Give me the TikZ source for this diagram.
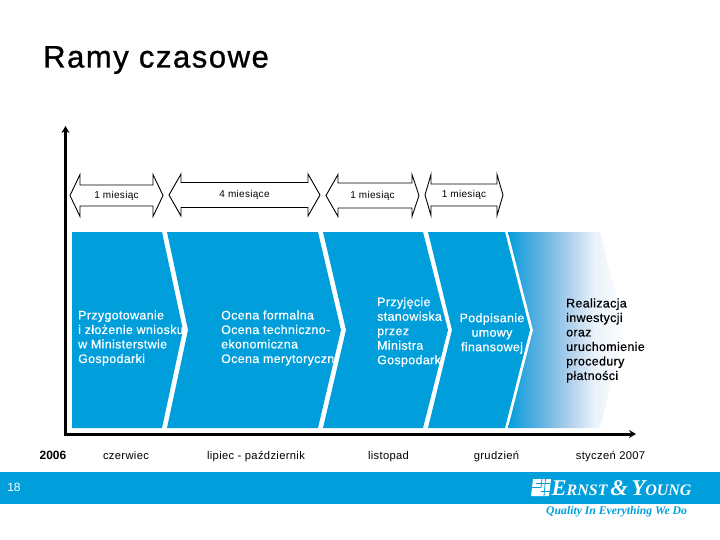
\documentclass[tikz,border=0pt]{standalone}
\usepackage{fontspec}
\usetikzlibrary{arrows.meta}
\setmainfont{Liberation Sans}
\newfontfamily\spaced[LetterSpace=3]{Liberation Sans}
\newfontfamily\stepfont[LetterSpace=3,FakeBold=0.6]{Liberation Sans}
\newfontfamily\titlefont[LetterSpace=5,FakeBold=1]{Liberation Sans}
\newfontfamily\logoserif{Liberation Serif}
\definecolor{eyblue}{HTML}{009FDC}
\definecolor{fadeA}{HTML}{2FA6DF}
\definecolor{fadeB}{HTML}{5AB0E0}
\definecolor{fadeC}{HTML}{A8CCEA}
\definecolor{fadeD}{HTML}{EAF2FA}
\pgfdeclarehorizontalshading{fadeblue}{100bp}{
  color(0bp)=(eyblue);
  color(25bp)=(eyblue);
  color(31bp)=(fadeA);
  color(38bp)=(fadeB);
  color(50bp)=(fadeC);
  color(62bp)=(fadeD);
  color(75bp)=(white);
  color(100bp)=(white)}
\tikzset{
  band/.style={fill=eyblue,draw=none},
  span/.style={draw=black,fill=white,line width=0.9pt,line join=miter},
  spantext/.style={font=\spaced\fontsize{10}{12}\selectfont,inner sep=0pt,text=black},
  steptext/.style={font=\stepfont\fontsize{12.4}{14.5}\selectfont,inner sep=0pt,text=white,align=left,anchor=west},
  datetext/.style={font=\spaced\fontsize{11.2}{14}\selectfont,inner sep=0pt,text=black,anchor=base},
  axisline/.style={line width=3pt,draw=black,line join=miter,{Stealth[length=7pt,width=8pt]}-{Stealth[length=7pt,width=8pt]}}
}
\newcommand{\spanarrow}[9]{% name,x1,xb1,xb2,x2,yc,shaft,head,text
  \draw[span] (#2,#6) -- (#3,#6-#8) -- (#3,#6-#7) -- (#4,#6-#7) -- (#4,#6-#8) -- (#5,#6)
    -- (#4,#6+#8) -- (#4,#6+#7) -- (#3,#6+#7) -- (#3,#6+#8) -- cycle;
  \node[spantext] (#1) at ({(#2+#5)/2},#6) {#9};
}
\begin{document}
\begin{tikzpicture}[x=1pt,y=-1pt]
\useasboundingbox (0,0) rectangle (720,540);
% title
\node[font=\titlefont\fontsize{31}{34}\selectfont,anchor=base west,inner sep=0pt] (title) at (43,67.5) {Ramy czasowe};
% axes
\coordinate (ytop) at (65.5,126);
\coordinate (orig) at (65.5,434);
\coordinate (xend) at (636,434);
\draw[axisline] (ytop) -- (orig) -- (xend);
% duration arrows
\spanarrow{d1}{70}{80}{153}{163}{195.5}{10.5}{21}{1 miesiąc}
\spanarrow{d2}{169}{181}{308}{320}{195}{12.5}{21}{4 miesiące}
\spanarrow{d3}{326}{338}{412}{419}{195.5}{12.5}{21}{1 miesiąc}
\spanarrow{d4}{425}{431}{497}{503}{195}{11}{20.5}{1 miesiąc}
% chevrons
\path[band] (72,232) -- (162,232) -- (183,330) -- (162,428) -- (72,428) -- cycle;
\path[band] (167,232) -- (318,232) -- (341,330) -- (318,428) -- (167,428) -- (188,330) -- cycle;
\path[band] (323,232) -- (423,232) -- (448,330) -- (423,428) -- (323,428) -- (346,330) -- cycle;
\path[band] (428,232) -- (505,232) -- (530,330) -- (505,428) -- (428,428) -- (452,330) -- cycle;
\shade[shading=fadeblue]
  (508,232) -- (600,232) -- (625,330) -- (600,428) -- (508,428) -- (533,330) -- cycle;
% step texts
\node[steptext] (s1) at (78,338) {Przygotowanie\\i złożenie wniosku\\w Ministerstwie\\Gospodarki};
\node[steptext] (s2) at (221,338) {Ocena formalna\\Ocena techniczno-\\ekonomiczna\\Ocena merytoryczn};
\node[steptext] (s3) at (377,332) {Przyjęcie\\stanowiska\\przez\\Ministra\\Gospodark};
\node[steptext,align=center,anchor=center] (s4) at (492,333.5) {Podpisanie\\umowy\\finansowej};
\node[steptext,text=black] (s5) at (566,340.5) {Realizacja\\inwestycji\\oraz\\uruchomienie\\procedury\\płatności};
% dates
\node[datetext,font=\bfseries\fontsize{12}{14}\selectfont] (y0) at (53,459) {2006};
\node[datetext] (m1) at (126,459) {czerwiec};
\node[datetext] (m2) at (256,459) {lipiec - październik};
\node[datetext] (m3) at (388.5,459) {listopad};
\node[datetext] (m4) at (496.5,459) {grudzień};
\node[datetext] (m5) at (610.5,459) {styczeń 2007};
% footer
\fill[eyblue] (0,472) rectangle (720,504);
\node[text=white,font=\fontsize{12}{14}\selectfont,inner sep=0pt] (pg) at (14,487.5) {18};
% logo
\fill[white] (533,479) -- (551,479) -- (549,496) -- (531,496) -- cycle;
\draw[eyblue,line width=0.8pt] (531.8,487.5) -- (541,487.5) (541,487.5) -- (542,479) (536,483.5) -- (550,483.5) (541,491.5) -- (549.5,491.5) (545.5,479) -- (544,496);
\node[anchor=base west,inner sep=0pt,text=white,font=\logoserif\itshape\bfseries\fontsize{18}{20}\selectfont] (ey) at (551.5,495.5)
  {\fontsize{22.5}{20}\selectfont E\fontsize{16}{20}\selectfont RNST\,\fontsize{22.5}{20}\selectfont \&\,Y\fontsize{16}{20}\selectfont OUNG};
\node[anchor=base west,inner sep=0pt,text=eyblue,font=\logoserif\itshape\bfseries\fontsize{11.7}{14}\selectfont] (tag) at (546,514) {Quality In Everything We Do};
\end{tikzpicture}
\end{document}
